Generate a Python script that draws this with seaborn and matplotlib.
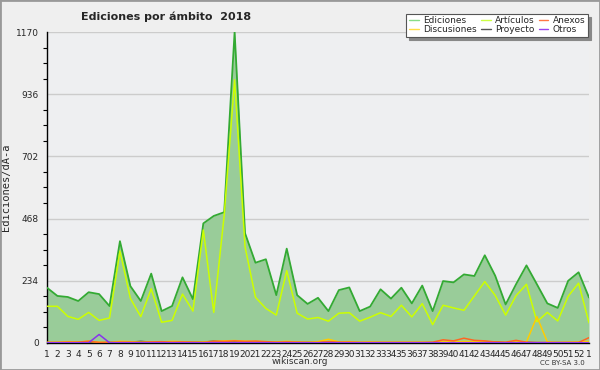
import numpy as np
import pandas as pd
import matplotlib
matplotlib.use("Agg")
import matplotlib.pyplot as plt
import seaborn as sns

weeks = list(range(1, 54))
week_labels = [str(i) for i in range(1, 53)] + ["1"]

ediciones = [208, 177, 173, 158, 191, 184, 139, 383, 214, 158,
             261, 120, 139, 247, 165, 450, 478, 492, 1170, 413,
             302, 315, 180, 355, 180, 147, 170, 120, 199, 209,
             120, 137, 202, 167, 208, 149, 216, 120, 233, 228,
             258, 252, 330, 253, 145, 221, 292, 221, 149, 132,
             234, 266, 171]
articulos = [138, 138, 100, 89, 115, 85, 94, 346, 168, 99,
             204, 78, 85, 184, 120, 425, 115, 480, 990, 362,
             172, 130, 105, 272, 112, 90, 96, 82, 112, 114,
             82, 97, 114, 100, 142, 98, 148, 69, 142, 132,
             123, 177, 231, 179, 105, 178, 221, 80, 115, 83,
             176, 225, 76]
discusiones = [3, 3, 5, 4, 6, 3, 2, 6, 5, 3,
               4, 4, 6, 5, 3, 4, 6, 8, 9, 7,
               6, 5, 4, 6, 4, 3, 5, 14, 4, 5,
               3, 4, 3, 3, 3, 3, 3, 2, 5, 4,
               6, 5, 4, 3, 2, 4, 4, 99, 4, 2,
               3, 4, 6]
proyecto = [1, 1, 1, 2, 2, 1, 2, 2, 3, 6,
            3, 2, 2, 3, 2, 3, 7, 5, 4, 3,
            5, 4, 2, 3, 2, 2, 2, 2, 2, 2,
            1, 1, 1, 1, 1, 1, 1, 1, 2, 2,
            3, 5, 5, 4, 1, 2, 2, 1, 1, 1,
            1, 1, 2]
anexos = [2, 2, 3, 3, 7, 2, 2, 3, 3, 2,
          4, 5, 3, 4, 3, 2, 6, 6, 8, 6,
          7, 5, 3, 4, 3, 2, 2, 5, 3, 3,
          2, 2, 2, 2, 2, 2, 2, 3, 12, 8,
          18, 10, 8, 4, 3, 10, 3, 2, 2, 2,
          2, 2, 20]
otros = [1, 1, 1, 1, 1, 32, 1, 1, 1, 1,
         1, 1, 1, 1, 1, 1, 1, 1, 1, 1,
         1, 1, 1, 1, 1, 1, 1, 1, 1, 1,
         1, 1, 1, 1, 1, 1, 1, 1, 1, 1,
         1, 1, 1, 1, 1, 1, 1, 1, 1, 1,
         1, 1, 1]

series_names = ["Ediciones", "Discusiones", "Artículos", "Proyecto", "Anexos", "Otros"]
series_vals = [ediciones, discusiones, articulos, proyecto, anexos, otros]
colors = {"Ediciones": "#33aa33", "Discusiones": "#ffcc00", "Artículos": "#ccff00",
          "Proyecto": "#444444", "Anexos": "#ff6622", "Otros": "#8833ee"}
legend_colors = {"Ediciones": "#88dd88", "Discusiones": "#ffdd44", "Artículos": "#ccff44",
                 "Proyecto": "#555555", "Anexos": "#ff7744", "Otros": "#9944ee"}

rows = []
for name, vals in zip(series_names, series_vals):
    for w, v in zip(weeks, vals):
        rows.append({"week": w, "value": v, "serie": name})
df = pd.DataFrame(rows)

sns.set_style("white")
plt.rcParams["font.family"] = ["DejaVu Sans"]

bg = "#efefef"
fig = plt.figure(figsize=(6, 3.7), dpi=100, facecolor=bg)
ax = fig.add_axes([0.0783, 0.073, 0.9034, 0.8405])
ax.set_facecolor("#eeeff1")

ax.fill_between(weeks, ediciones, 0, color="#99cc99", zorder=1, linewidth=0)
draw_order = ["Ediciones", "Artículos", "Proyecto", "Discusiones", "Anexos", "Otros"]
for name in draw_order:
    sub = df[df["serie"] == name]
    sns.lineplot(data=sub, x="week", y="value", color=colors[name], ax=ax,
                 linewidth=1.3 if name == "Ediciones" else 1.1, zorder=3, legend=False)

ax.set_xlim(1, 53)
ax.set_ylim(0, 1170)
yt = [0, 234, 468, 702, 936, 1170]
ax.set_yticks(yt)
ax.set_yticklabels([str(v) for v in yt], fontsize=6.5)
ax.set_yticks(np.arange(0, 1170, 58.5), minor=True)
ax.set_xticks(weeks)
ax.set_xticklabels(week_labels, fontsize=6.5)
ax.tick_params(axis="y", which="major", length=5, width=0.8, color="black", pad=1)
ax.tick_params(axis="y", which="minor", length=3, width=0.8, color="black", left=True)
ax.tick_params(axis="x", which="major", length=4, width=0.8, color="black", pad=1)
ax.grid(axis="y", which="major", color="#cccccc", linewidth=1, zorder=0)
ax.set_axisbelow(True)
for s in ["top", "right"]:
    ax.spines[s].set_visible(False)
ax.spines["left"].set_color("black")
ax.spines["bottom"].set_color("black")
ax.spines["left"].set_linewidth(1)
ax.spines["bottom"].set_linewidth(1)
ax.set_xlabel("")
ax.set_ylabel("Ediciones/dÃ-a", fontsize=7.5, family="DejaVu Sans Mono")
ax.yaxis.set_label_coords(-0.067, 0.5)

from matplotlib.lines import Line2D
handles = [Line2D([], [], color=legend_colors[n], linewidth=1.0) for n in series_names]
leg = fig.legend(handles, series_names, ncol=3, loc="upper right",
                 bbox_to_anchor=(0.988, 0.975), fontsize=6.5, frameon=True,
                 fancybox=False, shadow={"color": "#888888", "alpha": 1},
                 handlelength=1.1, handletextpad=0.5, columnspacing=0.4,
                 labelspacing=0.0, borderpad=0.3)
leg.get_frame().set_edgecolor("#555555")
leg.get_frame().set_linewidth(0.8)

fig.text(0.277, 0.955, "Ediciones por ámbito  2018", fontsize=8, fontweight="bold",
         ha="center", va="center")
fig.text(0.5, 0.022, "wikiscan.org", fontsize=6.5, ha="center", va="center", color="#333333")
fig.text(0.975, 0.018, "CC BY-SA 3.0", fontsize=5, ha="right", va="center", color="#333333")

border = plt.Rectangle((0, 0), 1, 1, transform=fig.transFigure, fill=False,
                       edgecolor="#999999", linewidth=2)
fig.patches.append(border)

fig.savefig("out.png", dpi=100, facecolor=bg)
